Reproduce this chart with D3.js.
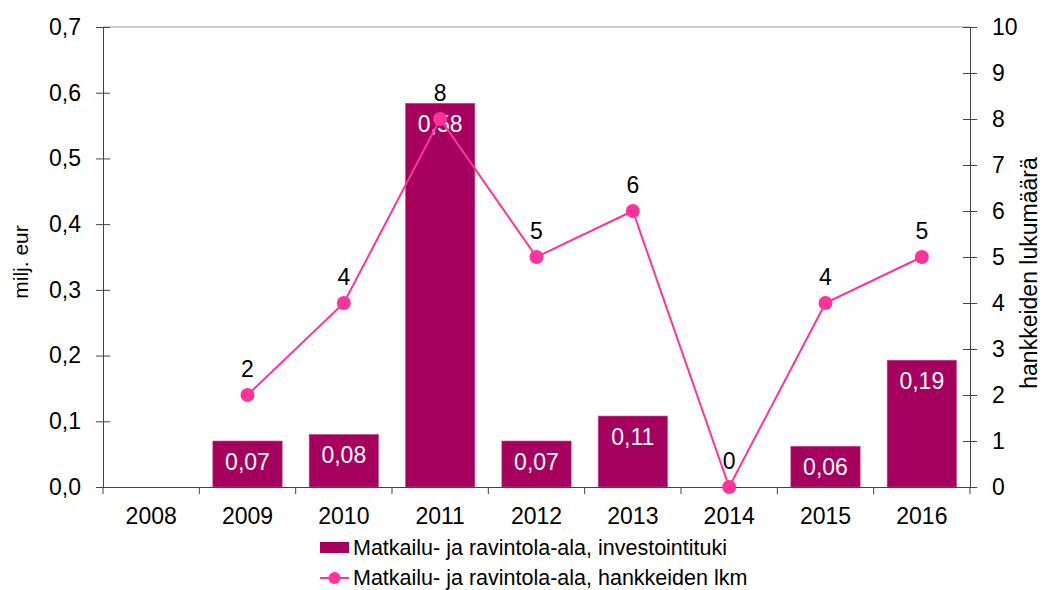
<!DOCTYPE html>
<html>
<head>
<meta charset="utf-8">
<script src="https://cdn.jsdelivr.net/npm/d3@7"></script>
<style>
  body { margin: 0; background: #fff; }
  text { font-family: "Liberation Sans", Arial, sans-serif; fill: #000; }
</style>
</head>
<body>
<div class="viz-container"></div>
<script>
// chart data
var years = ["2008", "2009", "2010", "2011", "2012", "2013", "2014", "2015", "2016"];
var support = [null, 0.07, 0.08, 0.584, 0.07, 0.108, null, 0.062, 0.193];
var supportLabels = ["", "0,07", "0,08", "0,58", "0,07", "0,11", "", "0,06", "0,19"];
var projects = [null, 2, 4, 8, 5, 6, 0, 4, 5];
var leftTicks = [0, 0.1, 0.2, 0.3, 0.4, 0.5, 0.6, 0.7];
var rightTicks = [0, 1, 2, 3, 4, 5, 6, 7, 8, 9, 10];
var legendNames = ["Matkailu- ja ravintola-ala, investointituki", "Matkailu- ja ravintola-ala, hankkeiden lkm"];

var width = 1043, height = 590;
var plotLeft = 103, plotRight = 970, plotTop = 27, plotBottom = 487;
var barColor = "#a5005e", lineColor = "#ff3399";
var fmt = function(v){ return d3.format(".1f")(v).replace(".", ","); };

var svg = d3.select(".viz-container").append("svg")
    .attr("width", width).attr("height", height);

var x = d3.scaleBand().domain(years).range([plotLeft, plotRight]).paddingInner(0.28).paddingOuter(0.14);
var xb = d3.scaleBand().domain(years).range([plotLeft, plotRight]);
var y = d3.scaleLinear().domain([0, 0.7]).range([plotBottom, plotTop]);
var y2 = d3.scaleLinear().domain([0, 10]).range([plotBottom, plotTop]);

// top border
svg.append("line").attr("x1", plotLeft).attr("x2", plotRight).attr("y1", plotTop).attr("y2", plotTop)
    .attr("stroke", "#999").attr("stroke-width", 1);

// bars
var barData = years.map(function(d, i){ return {year: d, v: support[i], l: supportLabels[i]}; });
svg.selectAll(".bar").data(barData)
    .enter().filter(function(d){ return d.v; })
    .append("rect")
    .attr("x", function(d){ return x(d.year); })
    .attr("y", function(d){ return y(d.v); })
    .attr("width", x.bandwidth())
    .attr("height", function(d){ return plotBottom - y(d.v); })
    .attr("fill", barColor)
    .attr("stroke", "#c4558f").attr("stroke-width", 0.6);

// axes
var fontSize = "23px";
var gl = svg.append("g").attr("transform", "translate(" + plotLeft + ",0)")
    .call(d3.axisLeft(y).tickValues(leftTicks).tickFormat(fmt).tickSizeInner(7).tickSizeOuter(0).tickPadding(15));
gl.selectAll(".tick line").attr("x2", 7).attr("x1", -7);
var gr = svg.append("g").attr("transform", "translate(" + plotRight + ",0)")
    .call(d3.axisRight(y2).tickValues(rightTicks).tickSizeInner(7).tickSizeOuter(0).tickPadding(15));
gr.selectAll(".tick line").attr("x1", -7).attr("x2", 7);
var gx = svg.append("g").attr("transform", "translate(0," + plotBottom + ")")
    .call(d3.axisBottom(xb).tickSize(0).tickPadding(21));
gx.selectAll(".tick line").remove();
gx.selectAll(".sep").data(d3.range(years.length + 1)).enter().append("line")
    .attr("x1", function(i){ return plotLeft + i * xb.bandwidth(); })
    .attr("x2", function(i){ return plotLeft + i * xb.bandwidth(); })
    .attr("y1", 0).attr("y2", 7).attr("stroke", "#444");
[gl, gr, gx].forEach(function(g){
  g.selectAll(".domain").attr("stroke", "#444");
  g.selectAll(".tick line").attr("stroke", "#444");
  g.selectAll("text").style("font-family", "Liberation Sans, Arial, sans-serif").style("font-size", fontSize).attr("fill", "#000");
});

// bar labels
svg.selectAll(".blab").data(barData)
    .enter().filter(function(d){ return d.v; })
    .append("text")
    .attr("x", function(d){ return x(d.year) + x.bandwidth() / 2; })
    .attr("y", function(d){ return y(d.v) + 29; })
    .attr("text-anchor", "middle").style("font-size", fontSize).style("fill", "#fff")
    .text(function(d){ return d.l; });

// line
var pts = years.map(function(d, i){ return {year: d, v: projects[i]}; }).filter(function(d){ return d.v !== null; });
var line = d3.line().x(function(d){ return xb(d.year) + xb.bandwidth() / 2; }).y(function(d){ return y2(d.v); });
svg.append("path").datum(pts).attr("d", line).attr("fill", "none").attr("stroke", lineColor).attr("stroke-width", 2);
svg.selectAll(".pt").data(pts).enter().append("circle")
    .attr("cx", function(d){ return xb(d.year) + xb.bandwidth() / 2; })
    .attr("cy", function(d){ return y2(d.v); })
    .attr("r", 7).attr("fill", lineColor);
svg.selectAll(".plab").data(pts).enter().append("text")
    .attr("x", function(d){ return xb(d.year) + xb.bandwidth() / 2; })
    .attr("y", function(d){ return y2(d.v) - 18; })
    .attr("text-anchor", "middle").style("font-size", fontSize)
    .text(function(d){ return d.v; });

// axis titles
svg.append("text").attr("transform", "translate(28,262) rotate(-90)")
    .attr("text-anchor", "middle").style("font-size", "21px").text("milj. eur");
svg.append("text").attr("transform", "translate(1037,273) rotate(-90)")
    .attr("text-anchor", "middle").style("font-size", "23px").text("hankkeiden lukumäärä");

// legend
var lg = svg.append("g").attr("transform", "translate(320,0)");
lg.append("rect").attr("x", 0).attr("y", 542).attr("width", 29).attr("height", 11).attr("fill", barColor);
lg.append("text").attr("x", 33).attr("y", 555).style("font-size", "21.5px").text(legendNames[0]);
lg.append("line").attr("x1", 0).attr("x2", 29).attr("y1", 578).attr("y2", 578).attr("stroke", lineColor).attr("stroke-width", 2);
lg.append("circle").attr("cx", 14.5).attr("cy", 578).attr("r", 6).attr("fill", lineColor);
lg.append("text").attr("x", 33).attr("y", 585).style("font-size", "21.5px").text(legendNames[1]);
</script>
</body>
</html>
